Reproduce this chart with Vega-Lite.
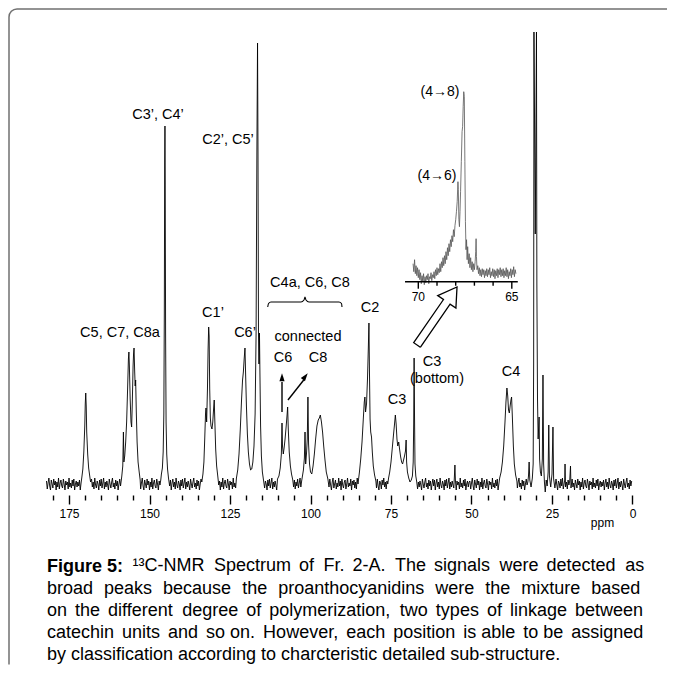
{
  "$schema": "https://vega.github.io/schema/vega-lite/v6.json",
  "width": 666,
  "height": 664,
  "autosize": {"type": "none"},
  "padding": {"left": 9, "top": 9, "right": 0, "bottom": 0},
  "background": "white",
  "config": {
    "view": {"stroke": "#707070", "strokeWidth": 1.5, "cornerRadius": 8, "strokeDash": [650, 1336, 700]},
    "font": "Liberation Sans",
    "text": {"font": "Liberation Sans", "color": "black"}
  },
  "title": {
    "text": "Figure 5:",
    "subtitle": [
      "broad \u2004peaks \u2004because \u2004the \u2004proanthocyanidins \u2004were \u2004the \u2004mixture \u2004based",
      "on \u2006the \u2006different \u2005degree \u2006of \u2006polymerization, \u2005two \u2006types \u2006of \u2006linkage \u2006between",
      "catechin \u2006units \u2006and \u2006so on. \u2006However, \u2006each \u2006position \u2006is able \u2006to be \u2006assigned",
      "by classification according to charcteristic detailed sub-structure."
    ],
    "orient": "bottom",
    "anchor": "start",
    "frame": "group",
    "offset": -115,
    "dx": 38,
    "font": "Liberation Sans",
    "fontSize": 18,
    "fontWeight": "bold",
    "color": "black",
    "subtitleFont": "Liberation Sans",
    "subtitleFontSize": 18,
    "subtitleColor": "black",
    "subtitleLineHeight": 22,
    "subtitlePadding": 4
  },
  "layer": [
    {
      "encoding": {
        "x": {"field": "p", "type": "quantitative",
          "scale": {"domain": [193.634, -13.199], "nice": false, "zero": false},
          "axis": {
            "values": [180,175,170,165,160,155,150,145,140,135,130,125,120,115,110,105,100,95,90,85,80,75,70,65,60,55,50,45,40,35,30,25,20,15,10,5,0],
            "domain": false, "grid": false, "tickColor": "black", "tickWidth": 1.4,
            "tickSize": {"condition": {"test": "datum.value % 25 === 0", "value": 9}, "value": 5},
            "labelExpr": "datum.value % 25 === 0 ? datum.label : ''",
            "labelFont": "Liberation Sans", "labelFontSize": 12, "labelColor": "black",
            "labelPadding": 4, "labelFlush": false, "labelOverlap": false,
            "offset": -178,
            "title": "ppm", "titleFont": "Liberation Sans", "titleFontSize": 12, "titleFontWeight": "normal",
            "titleColor": "black", "titleX": 593, "titleY": 27, "titleAlign": "center", "titleBaseline": "middle"
          }},
        "y": {"field": "v", "type": "quantitative",
          "scale": {"domain": [-189, 475], "nice": false, "zero": false}, "axis": null}
      },
      "layer": [
        {
          "data": {"values": [
{"p":182,"v":3},{"p":181.75,"v":-5},{"p":181.5,"v":1},{"p":181.25,"v":6},{"p":181,"v":-2},{"p":180.75,"v":-6},{"p":180.5,"v":4},{"p":180.25,"v":0},{"p":180,"v":-4},{"p":179.75,"v":5},{"p":179.5,"v":-1},{"p":179.25,"v":3},{"p":179,"v":-6},{"p":178.75,"v":2},{"p":178.5,"v":-3},{"p":178.25,"v":6},{"p":178,"v":-5},{"p":177.75,"v":1},{"p":177.5,"v":4},{"p":177.25,"v":-2},{"p":177,"v":-4},{"p":176.75,"v":5},{"p":176.5,"v":0},{"p":176.25,"v":-6},{"p":176,"v":3},{"p":175.75,"v":-1},{"p":175.5,"v":2},{"p":175.25,"v":-5},{"p":175,"v":6},{"p":174.75,"v":-3},{"p":174.5,"v":1},{"p":174.25,"v":-4},{"p":174,"v":4},{"p":173.75,"v":-2},{"p":173.5,"v":5},{"p":173.25,"v":-6},{"p":173,"v":0},{"p":172.75,"v":3},{"p":172.5,"v":-3},{"p":172.25,"v":2},{"p":172,"v":-2},{"p":171.75,"v":4},{"p":171.5,"v":-6},{"p":171.25,"v":1},{"p":171,"v":7},
{"p":170.7,"v":15},{"p":170.4,"v":32},{"p":170.1,"v":58},{"p":169.95,"v":80},{"p":169.8,"v":91},{"p":169.65,"v":78},{"p":169.5,"v":52},{"p":169.2,"v":30},{"p":168.9,"v":16},{"p":168.6,"v":9},{"p":168.3,"v":2},
{"p":168,"v":5},{"p":167.75,"v":-3},{"p":167.5,"v":2},{"p":167.25,"v":-5},{"p":167,"v":6},{"p":166.75,"v":-1},{"p":166.5,"v":-4},{"p":166.25,"v":3},{"p":166,"v":0},{"p":165.75,"v":-6},{"p":165.5,"v":4},{"p":165.25,"v":-2},{"p":165,"v":5},{"p":164.75,"v":-4},{"p":164.5,"v":1},{"p":164.25,"v":6},{"p":164,"v":-5},{"p":163.75,"v":2},{"p":163.5,"v":-3},{"p":163.25,"v":3},{"p":163,"v":-1},{"p":162.75,"v":-6},{"p":162.5,"v":5},{"p":162.25,"v":0},{"p":162,"v":-4},{"p":161.75,"v":2},{"p":161.5,"v":6},{"p":161.25,"v":-3},{"p":161,"v":1},{"p":160.75,"v":-5},{"p":160.5,"v":4},{"p":160.25,"v":-2},{"p":160,"v":3},{"p":159.75,"v":-6},{"p":159.5,"v":0},{"p":159.25,"v":5},{"p":159,"v":-2},{"p":158.75,"v":4},{"p":158.6,"v":8},
{"p":158.3,"v":18},{"p":158.1,"v":52},{"p":157.95,"v":22},{"p":157.7,"v":28},{"p":157.4,"v":42},{"p":157.1,"v":62},{"p":156.8,"v":95},{"p":156.55,"v":125},{"p":156.4,"v":132},{"p":156.25,"v":118},{"p":156.0,"v":85},{"p":155.75,"v":62},{"p":155.55,"v":57},{"p":155.35,"v":80},{"p":155.1,"v":118},{"p":154.95,"v":130},{"p":154.8,"v":136},{"p":154.6,"v":112},{"p":154.45,"v":98},{"p":154.3,"v":104},{"p":154.1,"v":72},{"p":153.85,"v":42},{"p":153.55,"v":22},{"p":153.2,"v":12},{"p":152.9,"v":4},
{"p":152.75,"v":-5},{"p":152.5,"v":1},{"p":152.25,"v":6},{"p":152,"v":-2},{"p":151.75,"v":-6},{"p":151.5,"v":4},{"p":151.25,"v":0},{"p":151,"v":-4},{"p":150.75,"v":5},{"p":150.5,"v":-1},{"p":150.25,"v":3},{"p":150,"v":-6},{"p":149.75,"v":2},{"p":149.5,"v":-3},{"p":149.25,"v":6},{"p":149,"v":-5},{"p":148.75,"v":1},{"p":148.5,"v":4},{"p":148.25,"v":-2},{"p":148,"v":-4},{"p":147.75,"v":5},{"p":147.5,"v":0},{"p":147.25,"v":-6},{"p":147,"v":3},{"p":146.75,"v":-1},{"p":146.5,"v":4},
{"p":146.3,"v":10},{"p":146.0,"v":16},{"p":145.75,"v":32},{"p":145.55,"v":70},{"p":145.4,"v":170},{"p":145.28,"v":320},{"p":145.2,"v":358},{"p":145.12,"v":300},{"p":145.0,"v":150},{"p":144.85,"v":62},{"p":144.65,"v":30},{"p":144.4,"v":15},{"p":144.1,"v":6},
{"p":143.75,"v":-2},{"p":143.5,"v":4},{"p":143.25,"v":-6},{"p":143,"v":1},{"p":142.75,"v":5},{"p":142.5,"v":-3},{"p":142.25,"v":2},{"p":142,"v":-5},{"p":141.75,"v":6},{"p":141.5,"v":-1},{"p":141.25,"v":-4},{"p":141,"v":3},{"p":140.75,"v":0},{"p":140.5,"v":-6},{"p":140.25,"v":4},{"p":140,"v":-2},{"p":139.75,"v":5},{"p":139.5,"v":-4},{"p":139.25,"v":1},{"p":139,"v":6},{"p":138.75,"v":-5},{"p":138.5,"v":2},{"p":138.25,"v":-3},{"p":138,"v":3},{"p":137.75,"v":-1},{"p":137.5,"v":-6},{"p":137.25,"v":5},{"p":137,"v":0},{"p":136.75,"v":-4},{"p":136.5,"v":2},{"p":136.25,"v":6},{"p":136,"v":-3},{"p":135.75,"v":1},{"p":135.5,"v":-5},{"p":135.25,"v":4},{"p":135,"v":-2},{"p":134.75,"v":3},{"p":134.5,"v":-6},{"p":134.25,"v":0},{"p":134,"v":5},{"p":133.75,"v":2},
{"p":133.4,"v":10},{"p":133.1,"v":22},{"p":132.85,"v":45},{"p":132.6,"v":70},{"p":132.45,"v":76},{"p":132.25,"v":62},{"p":132.0,"v":95},{"p":131.8,"v":135},{"p":131.62,"v":157},{"p":131.48,"v":148},{"p":131.3,"v":95},{"p":131.1,"v":66},{"p":130.9,"v":58},{"p":130.6,"v":55},{"p":130.35,"v":62},{"p":130.1,"v":75},{"p":129.9,"v":84},{"p":129.7,"v":62},{"p":129.45,"v":35},{"p":129.15,"v":18},{"p":128.8,"v":8},
{"p":128.5,"v":-1},{"p":128.25,"v":3},{"p":128,"v":-6},{"p":127.75,"v":2},{"p":127.5,"v":-3},{"p":127.25,"v":6},{"p":127,"v":-5},{"p":126.75,"v":1},{"p":126.5,"v":4},{"p":126.25,"v":-2},{"p":126,"v":-4},{"p":125.75,"v":5},{"p":125.5,"v":0},{"p":125.25,"v":-6},{"p":125,"v":3},{"p":124.75,"v":-1},{"p":124.5,"v":2},{"p":124.25,"v":-5},{"p":124,"v":6},{"p":123.75,"v":-3},{"p":123.5,"v":1},{"p":123.25,"v":-4},{"p":123,"v":6},
{"p":122.6,"v":14},{"p":122.2,"v":30},{"p":121.8,"v":55},{"p":121.4,"v":85},{"p":121.1,"v":104},{"p":120.85,"v":112},{"p":120.6,"v":125},{"p":120.35,"v":136},{"p":120.15,"v":110},{"p":119.9,"v":78},{"p":119.6,"v":50},{"p":119.3,"v":32},{"p":118.95,"v":20},{"p":118.6,"v":14},{"p":118.25,"v":15},{"p":117.9,"v":22},{"p":117.55,"v":38},{"p":117.2,"v":70},{"p":116.9,"v":150},{"p":116.65,"v":330},{"p":116.45,"v":441},{"p":116.3,"v":330},{"p":116.15,"v":150},{"p":116.0,"v":120},{"p":115.85,"v":151},{"p":115.7,"v":110},{"p":115.5,"v":58},{"p":115.25,"v":28},{"p":114.95,"v":12},{"p":114.6,"v":4},
{"p":114.25,"v":-4},{"p":114,"v":3},{"p":113.75,"v":0},{"p":113.5,"v":-6},{"p":113.25,"v":4},{"p":113,"v":-2},{"p":112.75,"v":5},{"p":112.5,"v":-4},{"p":112.25,"v":1},{"p":112,"v":6},{"p":111.75,"v":-5},{"p":111.5,"v":2},{"p":111.25,"v":-3},{"p":111,"v":3},{"p":110.75,"v":-1},{"p":110.5,"v":-6},{"p":110.25,"v":5},
{"p":109.8,"v":8},{"p":109.4,"v":16},{"p":109.05,"v":30},{"p":108.85,"v":61},{"p":108.7,"v":38},{"p":108.45,"v":30},{"p":108.2,"v":36},{"p":107.9,"v":45},{"p":107.55,"v":58},{"p":107.25,"v":70},{"p":107.1,"v":77},{"p":106.9,"v":55},{"p":106.6,"v":32},{"p":106.25,"v":18},{"p":105.9,"v":10},{"p":105.5,"v":4},
{"p":105.25,"v":-3},{"p":105,"v":4},{"p":104.75,"v":-5},{"p":104.5,"v":2},{"p":104.25,"v":-2},{"p":104,"v":5},{"p":103.75,"v":-4},{"p":103.5,"v":1},{"p":103.25,"v":6},{"p":103,"v":-3},{"p":102.75,"v":3},
{"p":102.6,"v":6},{"p":102.2,"v":14},{"p":101.9,"v":26},{"p":101.7,"v":52},{"p":101.5,"v":20},{"p":101.25,"v":30},{"p":101.0,"v":45},{"p":100.8,"v":87},{"p":100.6,"v":40},{"p":100.3,"v":20},{"p":100.0,"v":12},{"p":99.6,"v":10},{"p":99.2,"v":18},{"p":98.8,"v":30},{"p":98.4,"v":45},{"p":98.0,"v":58},{"p":97.6,"v":64},{"p":97.25,"v":66},{"p":96.95,"v":69},{"p":96.6,"v":62},{"p":96.25,"v":52},{"p":95.9,"v":38},{"p":95.5,"v":24},{"p":95.1,"v":12},{"p":94.6,"v":5},
{"p":94.25,"v":-3},{"p":94,"v":5},{"p":93.75,"v":-1},{"p":93.5,"v":-6},{"p":93.25,"v":2},{"p":93,"v":6},{"p":92.75,"v":-4},{"p":92.5,"v":0},{"p":92.25,"v":4},{"p":92,"v":-5},{"p":91.75,"v":1},{"p":91.5,"v":-3},{"p":91.25,"v":6},{"p":91,"v":-2},{"p":90.75,"v":3},{"p":90.5,"v":-6},{"p":90.25,"v":5},{"p":90,"v":-1},{"p":89.75,"v":-4},{"p":89.5,"v":2},{"p":89.25,"v":4},{"p":89,"v":-5},{"p":88.75,"v":0},{"p":88.5,"v":6},{"p":88.25,"v":-3},{"p":88,"v":1},{"p":87.75,"v":-2},{"p":87.5,"v":5},{"p":87.25,"v":-6},{"p":87,"v":3},{"p":86.75,"v":-1},{"p":86.5,"v":4},{"p":86.25,"v":-4},{"p":86,"v":2},{"p":85.75,"v":-5},{"p":85.5,"v":6},{"p":85.25,"v":0},
{"p":84.8,"v":12},{"p":84.4,"v":25},{"p":84.0,"v":42},{"p":83.6,"v":65},{"p":83.3,"v":82},{"p":83.1,"v":87},{"p":82.9,"v":72},{"p":82.6,"v":80},{"p":82.3,"v":105},{"p":82.05,"v":135},{"p":81.85,"v":161},{"p":81.7,"v":115},{"p":81.5,"v":65},{"p":81.3,"v":52},{"p":81.05,"v":47},{"p":80.8,"v":32},{"p":80.5,"v":18},{"p":80.1,"v":9},{"p":79.7,"v":3},
{"p":79.5,"v":-4},{"p":79.25,"v":5},{"p":79,"v":-2},{"p":78.75,"v":-6},{"p":78.5,"v":3},{"p":78.25,"v":1},{"p":78,"v":-5},{"p":77.75,"v":4},{"p":77.5,"v":-1},{"p":77.25,"v":6},{"p":77,"v":-3},{"p":76.75,"v":2},{"p":76.5,"v":-5},{"p":76.25,"v":3},{"p":76,"v":0},{"p":75.75,"v":6},
{"p":75.4,"v":12},{"p":75.0,"v":22},{"p":74.6,"v":36},{"p":74.2,"v":50},{"p":73.9,"v":60},{"p":73.65,"v":69},{"p":73.4,"v":60},{"p":73.15,"v":45},{"p":72.9,"v":38},{"p":72.6,"v":42},{"p":72.3,"v":34},{"p":72.0,"v":27},{"p":71.7,"v":22},{"p":71.4,"v":20},{"p":71.1,"v":24},{"p":70.8,"v":28},{"p":70.5,"v":33},{"p":70.3,"v":44},{"p":70.15,"v":22},{"p":69.9,"v":12},{"p":69.5,"v":6},{"p":69.1,"v":2},{"p":68.7,"v":4},{"p":68.35,"v":8},{"p":68.1,"v":22},{"p":67.95,"v":60},{"p":67.82,"v":126},{"p":67.7,"v":70},{"p":67.55,"v":20},{"p":67.3,"v":8},{"p":67.0,"v":2},
{"p":66.75,"v":-5},{"p":66.5,"v":2},{"p":66.25,"v":-3},{"p":66,"v":3},{"p":65.75,"v":-1},{"p":65.5,"v":-6},{"p":65.25,"v":5},{"p":65,"v":0},{"p":64.75,"v":-4},{"p":64.5,"v":2},{"p":64.25,"v":6},{"p":64,"v":-3},{"p":63.75,"v":1},{"p":63.5,"v":-5},{"p":63.25,"v":4},{"p":63,"v":-2},{"p":62.75,"v":3},{"p":62.5,"v":-6},{"p":62.25,"v":0},{"p":62,"v":5},{"p":61.75,"v":-2},{"p":61.5,"v":4},{"p":61.25,"v":-6},{"p":61,"v":1},{"p":60.75,"v":5},{"p":60.5,"v":-3},{"p":60.25,"v":2},{"p":60,"v":-5},{"p":59.75,"v":6},{"p":59.5,"v":-1},{"p":59.25,"v":-4},{"p":59,"v":3},{"p":58.75,"v":0},{"p":58.5,"v":-6},{"p":58.25,"v":4},{"p":58,"v":-2},{"p":57.75,"v":5},{"p":57.5,"v":-4},{"p":57.25,"v":1},{"p":57,"v":6},{"p":56.75,"v":-5},{"p":56.5,"v":2},{"p":56.25,"v":-3},{"p":56,"v":3},{"p":55.75,"v":-1},{"p":55.5,"v":-4},{"p":55.3,"v":8},{"p":55.15,"v":19},{"p":55.0,"v":4},{"p":54.75,"v":-6},{"p":54.5,"v":3},{"p":54.25,"v":-1},{"p":54,"v":2},{"p":53.75,"v":-5},{"p":53.5,"v":6},{"p":53.25,"v":-3},{"p":53,"v":1},{"p":52.75,"v":-4},{"p":52.5,"v":4},{"p":52.25,"v":-2},{"p":52,"v":5},{"p":51.75,"v":-6},{"p":51.5,"v":0},{"p":51.25,"v":3},{"p":51,"v":-3},{"p":50.75,"v":2},{"p":50.5,"v":3},{"p":50.25,"v":-5},{"p":50,"v":1},{"p":49.75,"v":6},{"p":49.5,"v":-2},{"p":49.25,"v":-6},{"p":49,"v":4},{"p":48.75,"v":0},{"p":48.5,"v":-4},{"p":48.25,"v":5},{"p":48,"v":-1},{"p":47.75,"v":3},{"p":47.5,"v":-6},{"p":47.25,"v":2},{"p":47,"v":-3},{"p":46.75,"v":6},{"p":46.5,"v":-5},{"p":46.25,"v":1},{"p":46,"v":4},{"p":45.75,"v":-2},{"p":45.5,"v":-4},{"p":45.25,"v":5},{"p":45,"v":0},{"p":44.75,"v":-6},{"p":44.5,"v":3},{"p":44.25,"v":-1},{"p":44,"v":2},{"p":43.75,"v":-5},{"p":43.5,"v":6},{"p":43.25,"v":-3},{"p":43,"v":1},{"p":42.75,"v":-4},{"p":42.5,"v":4},{"p":42.25,"v":-2},{"p":42,"v":5},{"p":41.75,"v":-6},{"p":41.5,"v":0},{"p":41.25,"v":6},
{"p":40.8,"v":12},{"p":40.4,"v":22},{"p":40.0,"v":38},{"p":39.6,"v":62},{"p":39.3,"v":82},{"p":39.0,"v":96},{"p":38.75,"v":88},{"p":38.5,"v":74},{"p":38.25,"v":71},{"p":38.0,"v":78},{"p":37.75,"v":84},{"p":37.55,"v":87},{"p":37.3,"v":66},{"p":37.0,"v":38},{"p":36.7,"v":20},{"p":36.3,"v":9},{"p":35.9,"v":3},
{"p":35.75,"v":-4},{"p":35.5,"v":2},{"p":35.25,"v":6},{"p":35,"v":-3},{"p":34.75,"v":1},{"p":34.5,"v":-5},{"p":34.25,"v":4},{"p":34,"v":-2},{"p":33.75,"v":3},{"p":33.5,"v":-6},{"p":33.25,"v":0},{"p":33,"v":5},{"p":32.75,"v":-1},{"p":32.5,"v":2},
{"p":32.3,"v":8},{"p":32.1,"v":22},{"p":31.9,"v":4},{"p":31.5,"v":-3},{"p":31.1,"v":6},{"p":30.85,"v":20},{"p":30.7,"v":120},{"p":30.6,"v":452},{"p":30.45,"v":380},{"p":30.2,"v":250},{"p":29.95,"v":380},{"p":29.82,"v":452},{"p":29.7,"v":200},{"p":29.5,"v":85},{"p":29.3,"v":45},{"p":29.1,"v":60},{"p":29.0,"v":67},{"p":28.85,"v":25},{"p":28.6,"v":12},{"p":28.3,"v":8},{"p":28.0,"v":25},{"p":27.8,"v":109},{"p":27.6,"v":20},{"p":27.35,"v":2},{"p":27.1,"v":-8},{"p":26.8,"v":4},{"p":26.5,"v":-2},{"p":26.2,"v":12},{"p":26.0,"v":59},{"p":25.8,"v":8},{"p":25.4,"v":-3},{"p":25.0,"v":10},{"p":24.7,"v":57},{"p":24.5,"v":5},{"p":24.1,"v":-4},
{"p":23.75,"v":5},{"p":23.5,"v":-1},{"p":23.25,"v":-6},{"p":23,"v":3},{"p":22.75,"v":1},{"p":22.5,"v":-4},{"p":22.25,"v":5},{"p":22,"v":-2},{"p":21.75,"v":6},{"p":21.5,"v":-5},{"p":21.25,"v":0},{"p":21.05,"v":4},{"p":20.95,"v":20},{"p":20.8,"v":-3},{"p":20.5,"v":2},{"p":20.25,"v":-5},{"p":20,"v":4},{"p":19.75,"v":-1},{"p":19.5,"v":3},{"p":19.25,"v":18},{"p":19.1,"v":-4},{"p":18.75,"v":5},{"p":18.5,"v":-3},{"p":18.25,"v":1},{"p":18,"v":-6},{"p":17.75,"v":4},{"p":17.5,"v":0},{"p":17.25,"v":-4},{"p":17,"v":5},{"p":16.75,"v":-1},{"p":16.5,"v":3},{"p":16.25,"v":-6},{"p":16,"v":2},{"p":15.75,"v":-3},{"p":15.5,"v":6},{"p":15.25,"v":-5},{"p":15,"v":1},{"p":14.75,"v":4},{"p":14.5,"v":-2},{"p":14.25,"v":-4},{"p":14,"v":5},{"p":13.75,"v":0},{"p":13.5,"v":-6},{"p":13.25,"v":3},{"p":13,"v":-1},{"p":12.75,"v":2},{"p":12.5,"v":-5},{"p":12.25,"v":6},{"p":12,"v":-3},{"p":11.75,"v":1},{"p":11.5,"v":-4},{"p":11.25,"v":4},{"p":11,"v":-2},{"p":10.75,"v":5},{"p":10.5,"v":-6},{"p":10.25,"v":0},{"p":10,"v":3},{"p":9.75,"v":-3},{"p":9.5,"v":2},{"p":9.25,"v":-2},{"p":9,"v":4},{"p":8.75,"v":-6},{"p":8.5,"v":1},{"p":8.25,"v":5},{"p":8,"v":-3},{"p":7.75,"v":2},{"p":7.5,"v":-5},{"p":7.25,"v":6},{"p":7,"v":-1},{"p":6.75,"v":-4},{"p":6.5,"v":3},{"p":6.25,"v":0},{"p":6,"v":-6},{"p":5.75,"v":4},{"p":5.5,"v":-2},{"p":5.25,"v":5},{"p":5,"v":-4},{"p":4.75,"v":1},{"p":4.5,"v":6},{"p":4.25,"v":-5},{"p":4,"v":2},{"p":3.75,"v":-3},{"p":3.5,"v":3},{"p":3.25,"v":-1},{"p":3,"v":-6},{"p":2.75,"v":5},{"p":2.5,"v":0},{"p":2.25,"v":-4},{"p":2,"v":2},{"p":1.75,"v":6},{"p":1.5,"v":-3},{"p":1.25,"v":1},{"p":1,"v":-5},{"p":0.75,"v":4},{"p":0.5,"v":-2},{"p":0.25,"v":3}
          ]},
          "mark": {"type": "line", "color": "black", "strokeWidth": 0.9}
        },
        {
          "mark": {"type": "rule", "color": "black", "strokeWidth": 1.5},
          "encoding": {"x": {"datum": 180}, "x2": {"datum": 0}, "y": {"datum": -11}}
        },
        {
          "data": {"values": [
            {"p": 159.16, "v": 151, "t": "C5, C7, C8a"},
            {"p": 147.36, "v": 369, "t": "C3’, C4’"},
            {"p": 130.28, "v": 171, "t": "C1’"},
            {"p": 125.62, "v": 344, "t": "C2’, C5’"},
            {"p": 120.34, "v": 151, "t": "C6’"},
            {"p": 100.16, "v": 201, "t": "C4a, C6, C8"},
            {"p": 100.78, "v": 147, "t": "connected"},
            {"p": 108.54, "v": 126, "t": "C6"},
            {"p": 97.67, "v": 126, "t": "C8"},
            {"p": 81.52, "v": 176, "t": "C2"},
            {"p": 73.14, "v": 84, "t": "C3"},
            {"p": 62.27, "v": 122, "t": "C3"},
            {"p": 60.71, "v": 105, "t": "(bottom)"},
            {"p": 37.73, "v": 112, "t": "C4"}
          ]},
          "mark": {"type": "text", "fontSize": 14.5, "font": "Liberation Sans", "color": "black", "align": "center", "baseline": "middle"},
          "encoding": {"text": {"field": "t"}}
        },
        {
          "data": {"values": [
            {"p": 155.28, "v": -82, "t": "¹³C-NMR \u2005Spectrum \u2006of \u2005Fr. \u20062-A. \u2005The \u2006signals \u2005were \u2006detected \u2005as"}
          ]},
          "mark": {"type": "text", "fontSize": 18, "font": "Liberation Sans", "color": "black", "align": "left", "baseline": "middle"},
          "encoding": {"text": {"field": "t"}}
        },
        {
          "data": {"values": [
            {"p": 113.29, "v": 177}, {"p": 113.04, "v": 180.5}, {"p": 112.27, "v": 182}, {"p": 102.95, "v": 182},
            {"p": 102.02, "v": 184}, {"p": 101.71, "v": 187}, {"p": 101.4, "v": 184}, {"p": 100.47, "v": 182},
            {"p": 91.15, "v": 182}, {"p": 90.37, "v": 180.5}, {"p": 90.22, "v": 177}
          ]},
          "mark": {"type": "line", "color": "black", "strokeWidth": 1.1, "interpolate": "monotone"}
        },
        {
          "data": {"values": [
            {"p": 108.85, "v": 72, "p2": 108.85, "v2": 102},
            {"p": 107.0, "v": 84, "p2": 102.1, "v2": 104}
          ]},
          "mark": {"type": "rule", "color": "black", "strokeWidth": 1.4},
          "encoding": {"x2": {"field": "p2"}, "y2": {"field": "v2"}}
        },
        {
          "data": {"values": [{"p": 108.85, "v": 106}]},
          "mark": {"type": "point", "shape": "M0,-1L0.55,0.7L-0.55,0.7Z", "size": 90, "filled": true, "color": "black", "opacity": 1, "angle": 0}
        },
        {
          "data": {"values": [{"p": 101.75, "v": 107}]},
          "mark": {"type": "point", "shape": "M0,-1L0.55,0.7L-0.55,0.7Z", "size": 90, "filled": true, "color": "black", "opacity": 1, "angle": 37}
        },
        {
          "data": {"values": [
            {"i": 1, "p": 65.90, "v": 136.7}, {"i": 2, "p": 56.65, "v": 179.9}, {"i": 3, "p": 54.84, "v": 176},
            {"i": 4, "p": 54.50, "v": 197}, {"i": 5, "p": 60.50, "v": 188.4}, {"i": 6, "p": 58.70, "v": 184.5},
            {"i": 7, "p": 67.95, "v": 141.3}, {"i": 8, "p": 65.90, "v": 136.7}
          ]},
          "mark": {"type": "line", "color": "black", "strokeWidth": 1.3},
          "encoding": {"order": {"field": "i", "type": "quantitative"}}
        }
      ]
    },
    {
      "encoding": {
        "x": {"field": "q", "type": "quantitative",
          "scale": {"domain": [91.888, 56.273], "nice": false, "zero": false}, "axis": null},
        "y": {"field": "w", "type": "quantitative",
          "scale": {"domain": [-391.3, 272.7], "nice": false, "zero": false}, "axis": null}
      },
      "layer": [
        {
          "data": {"values": [
{"q":70.28,"w":18},{"q":70.24,"w":10},{"q":70.2,"w":22},{"q":70.16,"w":8},{"q":70.12,"w":16},{"q":70.08,"w":6},{"q":70.04,"w":14},{"q":70.0,"w":4},{"q":69.96,"w":12},{"q":69.92,"w":2},{"q":69.88,"w":9},{"q":69.84,"w":-2},{"q":69.8,"w":6},{"q":69.76,"w":0},{"q":69.72,"w":8},{"q":69.68,"w":-3},{"q":69.64,"w":5},{"q":69.6,"w":-1},{"q":69.56,"w":6},{"q":69.52,"w":2},{"q":69.48,"w":8},{"q":69.44,"w":-2},{"q":69.4,"w":5},{"q":69.36,"w":3},{"q":69.32,"w":9},{"q":69.28,"w":1},{"q":69.24,"w":7},{"q":69.2,"w":4},{"q":69.16,"w":10},{"q":69.12,"w":3},{"q":69.08,"w":12},{"q":69.04,"w":6},{"q":69.0,"w":14},{"q":68.96,"w":7},{"q":68.92,"w":13},{"q":68.88,"w":9},{"q":68.84,"w":18},{"q":68.8,"w":10},{"q":68.76,"w":20},{"q":68.72,"w":14},{"q":68.68,"w":24},{"q":68.64,"w":16},{"q":68.6,"w":26},{"q":68.56,"w":18},{"q":68.52,"w":30},{"q":68.48,"w":22},{"q":68.44,"w":34},{"q":68.4,"w":26},{"q":68.36,"w":38},{"q":68.32,"w":30},{"q":68.28,"w":42},{"q":68.24,"w":35},{"q":68.2,"w":46},{"q":68.16,"w":40},{"q":68.12,"w":52},{"q":68.08,"w":45},{"q":68.04,"w":56},{"q":68.0,"w":62},{"q":67.96,"w":70},{"q":67.92,"w":80},{"q":67.88,"w":100},{"q":67.86,"w":92},{"q":67.83,"w":62},{"q":67.8,"w":55},{"q":67.77,"w":70},{"q":67.74,"w":90},{"q":67.7,"w":120},{"q":67.66,"w":150},{"q":67.63,"w":155},{"q":67.6,"w":175},{"q":67.57,"w":190},{"q":67.54,"w":185},{"q":67.51,"w":120},{"q":67.48,"w":60},{"q":67.45,"w":32},{"q":67.42,"w":42},{"q":67.39,"w":22},{"q":67.36,"w":35},{"q":67.32,"w":18},{"q":67.28,"w":28},{"q":67.24,"w":14},{"q":67.2,"w":24},{"q":67.16,"w":12},{"q":67.12,"w":20},{"q":67.08,"w":10},{"q":67.04,"w":18},{"q":67.0,"w":12},{"q":66.96,"w":20},{"q":66.93,"w":30},{"q":66.91,"w":43},{"q":66.89,"w":25},{"q":66.86,"w":12},{"q":66.82,"w":16},{"q":66.78,"w":8},{"q":66.74,"w":14},{"q":66.7,"w":6},{"q":66.66,"w":12},{"q":66.62,"w":5},{"q":66.58,"w":13},{"q":66.54,"w":7},{"q":66.5,"w":12},{"q":66.46,"w":4},{"q":66.42,"w":11},{"q":66.38,"w":6},{"q":66.34,"w":13},{"q":66.3,"w":5},{"q":66.26,"w":12},{"q":66.22,"w":7},{"q":66.18,"w":14},{"q":66.14,"w":4},{"q":66.1,"w":10},{"q":66.06,"w":6},{"q":66.02,"w":13},{"q":65.98,"w":5},{"q":65.94,"w":12},{"q":65.9,"w":3},{"q":65.86,"w":11},{"q":65.82,"w":6},{"q":65.78,"w":13},{"q":65.74,"w":4},{"q":65.7,"w":12},{"q":65.66,"w":7},{"q":65.62,"w":14},{"q":65.58,"w":5},{"q":65.54,"w":12},{"q":65.5,"w":6},{"q":65.46,"w":13},{"q":65.42,"w":4},{"q":65.38,"w":11},{"q":65.34,"w":6},{"q":65.3,"w":14},{"q":65.26,"w":5},{"q":65.22,"w":12},{"q":65.18,"w":3},{"q":65.14,"w":10},{"q":65.1,"w":6},{"q":65.06,"w":13},{"q":65.02,"w":4},{"q":64.98,"w":12},{"q":64.94,"w":7},{"q":64.9,"w":15},{"q":64.86,"w":5},{"q":64.82,"w":12},{"q":64.78,"w":8}
          ]},
          "mark": {"type": "line", "color": "#555555", "strokeWidth": 0.8}
        },
        {
          "data": {"values": [{"q": 70.71, "q2": 64.68, "w": 0}]},
          "mark": {"type": "rule", "color": "black", "strokeWidth": 1.5},
          "encoding": {"x2": {"field": "q2"}}
        },
        {
          "data": {"values": [
            {"q": 70, "w": 0, "w2": -7}, {"q": 65, "w": 0, "w2": -7},
            {"q": 69, "w": 0, "w2": -4}, {"q": 68, "w": 0, "w2": -4}, {"q": 67, "w": 0, "w2": -4}, {"q": 66, "w": 0, "w2": -4}
          ]},
          "mark": {"type": "rule", "color": "black", "strokeWidth": 1.4},
          "encoding": {"y2": {"field": "w2"}}
        },
        {
          "data": {"values": [{"q": 70, "w": -15.5, "t": "70"}, {"q": 65, "w": -15.5, "t": "65"}]},
          "mark": {"type": "text", "fontSize": 12, "font": "Liberation Sans", "color": "black", "align": "center", "baseline": "middle"},
          "encoding": {"text": {"field": "t"}}
        },
        {
          "data": {"values": [
            {"q": 68.84, "w": 189.7, "t": "(4→8)"},
            {"q": 69.0, "w": 105.7, "t": "(4→6)"}
          ]},
          "mark": {"type": "text", "fontSize": 14, "font": "Liberation Sans", "color": "black", "align": "center", "baseline": "middle"},
          "encoding": {"text": {"field": "t"}}
        }
      ]
    }
  ],
  "resolve": {"scale": {"x": "independent", "y": "independent"}, "axis": {"x": "independent", "y": "independent"}}
}
